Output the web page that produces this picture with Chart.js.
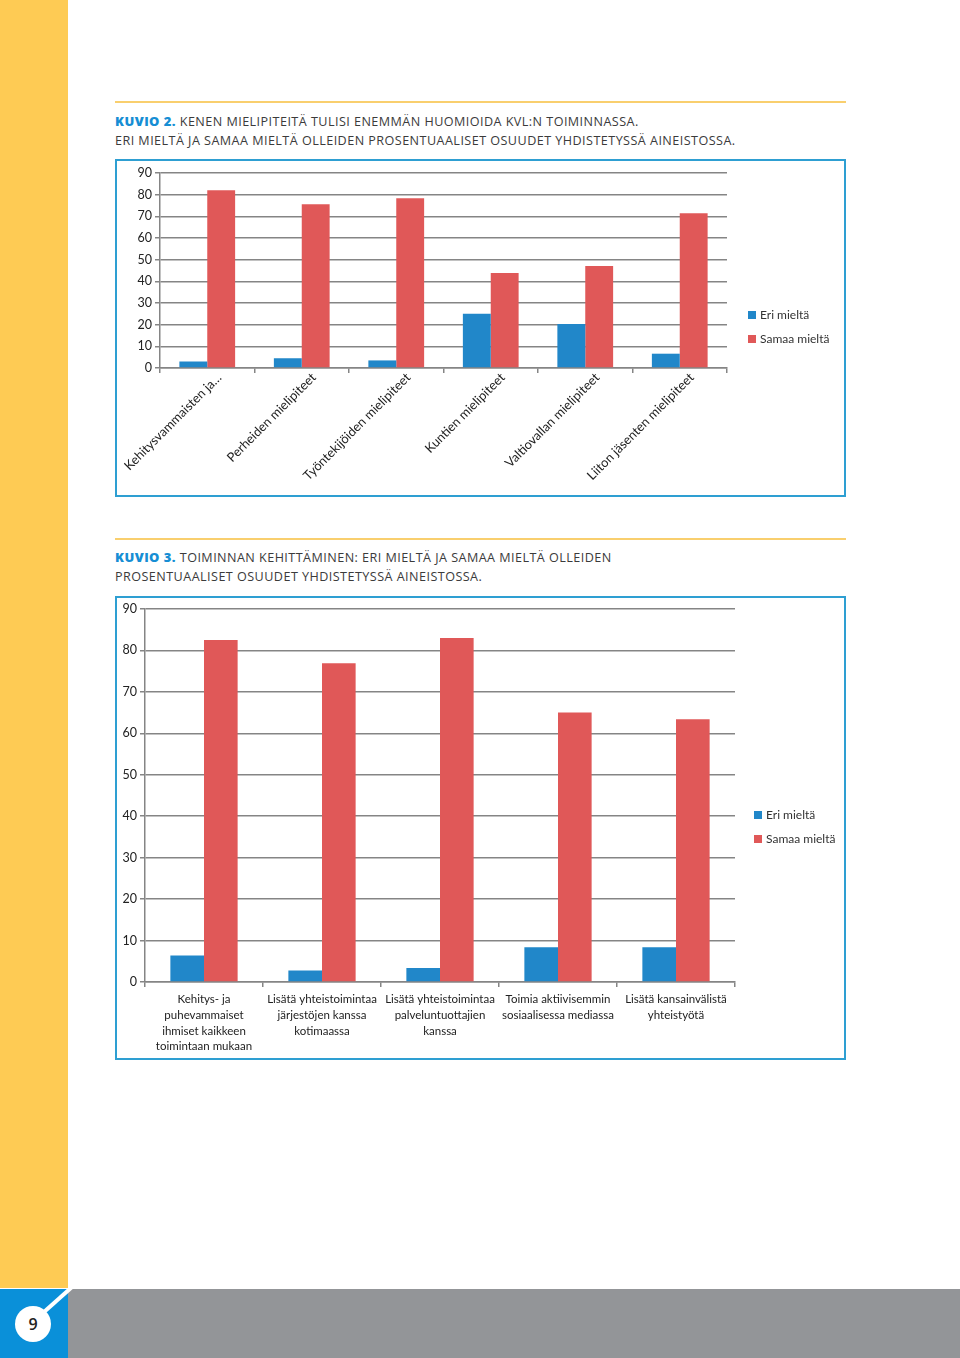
<!DOCTYPE html>
<html>
<head>
<meta charset="utf-8">
<script src="https://cdn.jsdelivr.net/npm/chart.js@4"></script>
<style>
  body { margin:0; width:960px; height:1358px; position:relative; background:#fff; overflow:hidden; font-family:Lato, "Open Sans", sans-serif; }
  .strip { position:absolute; left:0; top:0; width:68px; height:1288px; background:#fecb54; }
  .foot { position:absolute; left:68px; top:1289px; width:892px; height:69px; background:#939598; }
  .pagebox { position:absolute; left:0; top:1289px; width:68px; height:69px; background:#0a90d9; }
  .rule { position:absolute; left:115px; width:731px; height:2px; background:#f9cf6e; }
  .head { position:absolute; left:115px; font-family:"Open Sans", sans-serif; font-weight:500; font-size:12.6px; color:#3b3b3b; line-height:19px; letter-spacing:0.45px; white-space:nowrap; }
  .head b { color:#168ed4; font-weight:800; font-size:13px; }
  .box { position:absolute; left:115px; width:727px; border:2px solid #2e9fd2; }
  .box canvas { position:absolute; left:0; top:0; }
  .legend { position:absolute; font-size:12px; color:#333; }
  .legend div { height:24px; line-height:16px; white-space:nowrap; }
  .legend span { display:inline-block; width:8px; height:8px; margin-right:4px; vertical-align:0px; }
</style>
</head>
<body>
<div class="strip"></div>
<div class="foot"></div>
<div class="pagebox"></div>
<svg style="position:absolute;left:0;top:1270px" width="100" height="88">
  <line x1="72" y1="17" x2="44" y2="42" stroke="#fff" stroke-width="4"/>
  <circle cx="33" cy="54" r="18" fill="#fff"/>
  <text x="33" y="60" text-anchor="middle" font-family="Open Sans" font-size="16" font-weight="600" fill="#222">9</text>
</svg>

<div class="rule" style="top:101px"></div>
<div class="head" style="top:112px"><b>KUVIO 2.</b> KENEN MIELIPITEITÄ TULISI ENEMMÄN HUOMIOIDA KVL:N TOIMINNASSA.<br>ERI MIELTÄ JA SAMAA MIELTÄ OLLEIDEN PROSENTUAALISET OSUUDET YHDISTETYSSÄ AINEISTOSSA.</div>
<div class="box" id="box1" style="top:159px;height:334px"><canvas id="c1" width="727" height="334"></canvas></div>

<div class="rule" style="top:538px"></div>
<div class="head" style="top:548px"><b>KUVIO 3.</b> TOIMINNAN KEHITTÄMINEN: ERI MIELTÄ JA SAMAA MIELTÄ OLLEIDEN<br>PROSENTUAALISET OSUUDET YHDISTETYSSÄ AINEISTOSSA.</div>
<div class="box" id="box2" style="top:596px;height:460px"><canvas id="c2" width="727" height="460"></canvas></div>

<script>
// Data
const seriesNames = ["Eri mieltä", "Samaa mieltä"];
const seriesColors = ["#2187c9", "#e05858"];

const cats1 = ["Kehitysvammaisten ja…", "Perheiden mielipiteet", "Työntekijöiden mielipiteet",
  "Kuntien mielipiteet", "Valtiovallan mielipiteet", "Liiton jäsenten mielipiteet"];
const eri1 = [3, 4.5, 3.5, 25, 20.3, 6.6];
const samaa1 = [82, 75.6, 78.4, 43.9, 47.1, 71.4];

const cats2 = [
  ["Kehitys- ja", "puhevammaiset", "ihmiset kaikkeen", "toimintaan mukaan"],
  ["Lisätä yhteistoimintaa", "järjestöjen kanssa", "kotimaassa"],
  ["Lisätä yhteistoimintaa", "palveluntuottajien", "kanssa"],
  ["Toimia aktiivisemmin", "sosiaalisessa mediassa"],
  ["Lisätä kansainvälistä", "yhteistyötä"]
];
const eri2 = [6.4, 2.8, 3.4, 8.4, 8.4];
const samaa2 = [82.5, 76.9, 83, 65, 63.4];

const yTicks = [0, 10, 20, 30, 40, 50, 60, 70, 80, 90];

Chart.defaults.font.family = "Lato, 'Open Sans', sans-serif";
Chart.defaults.color = "#222";
Chart.defaults.animation = false;

function makeChart(id, labels, eri, samaa, o) {
  return new Chart(document.getElementById(id), {
    type: "bar",
    data: {
      labels: labels,
      datasets: [
        { label: seriesNames[0], data: eri, backgroundColor: seriesColors[0] },
        { label: seriesNames[1], data: samaa, backgroundColor: seriesColors[1] }
      ]
    },
    options: {
      responsive: false,
      layout: { padding: { top: o.top, right: o.right, left: 0, bottom: 0 } },
      plugins: { legend: { display: false }, tooltip: { enabled: false } },
      datasets: { bar: { categoryPercentage: o.catPct, barPercentage: 1 } },
      scales: {
        x: {
          afterFit: s => { s.height = o.xh; s.paddingLeft = 0; s.paddingRight = 0; },
          grid: { drawOnChartArea: false, color: "#858585", lineWidth: 1.5, tickLength: 5 },
          border: { color: "#858585", width: 1.5 },
          ticks: { autoSkip: false, maxRotation: o.rot, minRotation: o.rot, labelOffset: o.xoff,
                   font: { size: o.xfont, lineHeight: o.xlh }, padding: o.xpad, color: "#222" }
        },
        y: {
          min: 0, max: 90,
          afterFit: s => { s.width = o.yw; },
          afterBuildTicks: s => { s.ticks = yTicks.map(v => ({ value: v })); },
          grid: { color: "#858585", lineWidth: 1.5, tickLength: 5 },
          border: { color: "#858585", width: 1.5 },
          ticks: { font: { size: 12.5 }, padding: 3, color: "#222" }
        }
      }
    }
  });
}

makeChart("c1", cats1, eri1, samaa1, { top: 12, right: 117, xh: 127, yw: 43, catPct: 0.59, rot: 45, xfont: 12.8, xlh: 1.2, xpad: -3, xoff: 12 });
makeChart("c2", cats2, eri2, samaa2, { top: 11, right: 109, xh: 76, yw: 28, catPct: 0.57, rot: 0, xfont: 11.5, xlh: 1.35, xpad: 5, xoff: 0 });

// HTML legends
function legend(boxId, left, top) {
  const d = document.createElement("div");
  d.className = "legend";
  d.style.left = left + "px";
  d.style.top = top + "px";
  seriesNames.forEach((n, i) => {
    const r = document.createElement("div");
    r.innerHTML = '<span style="background:' + seriesColors[i] + '"></span>' + n;
    d.appendChild(r);
  });
  document.getElementById(boxId).appendChild(d);
}
legend("box1", 631, 146);
legend("box2", 637, 209);
</script>
</body>
</html>
